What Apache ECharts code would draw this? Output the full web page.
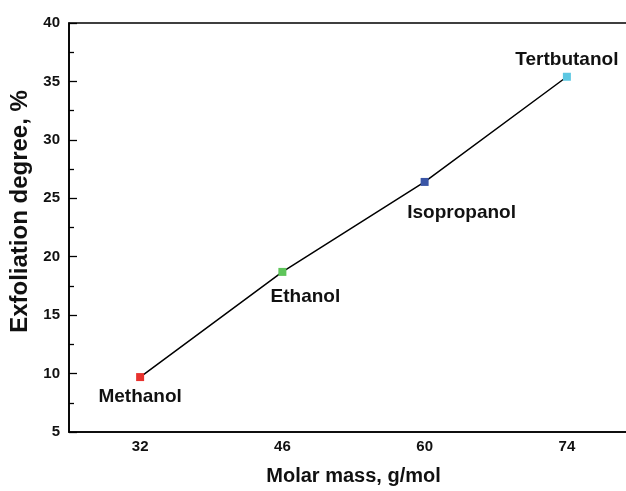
<!DOCTYPE html>
<html><head><meta charset="utf-8">
<script src="https://cdn.jsdelivr.net/npm/echarts@6/dist/echarts.min.js"></script>
<style>html,body{margin:0;padding:0;background:#fff;overflow:hidden;width:626px;height:491px}#c{width:640px;height:491px}</style>
</head><body><div id="c"></div>
<script>
const categories = ['32', '46', '60', '74'];
const solvents = ['Methanol', 'Ethanol', 'Isopropanol', 'Tertbutanol'];
const exfoliation = [9.7, 18.7, 26.4, 35.4];
const colors = ['#e8322e', '#5ec55a', '#3a55a6', '#5cc7e2'];
const labelPos = [
  {position: 'bottom', offset: [0, 1]},
  {position: 'bottom', offset: [23, 6]},
  {position: 'bottom', offset: [37, 12]},
  {position: 'top', offset: [0, 2]}
];
const chart = echarts.init(document.getElementById('c'));
const font = 'Liberation Sans, Arial, sans-serif';
chart.setOption({
  animation: false,
  grid: {left: 69, top: 23, right: 2, bottom: 56, show: true, borderColor: '#000', borderWidth: 1.6},
  xAxis: {
    type: 'category', data: categories, boundaryGap: true,
    name: 'Molar mass, g/mol', nameLocation: 'middle', nameGap: 34,
    nameTextStyle: {fontFamily: font, fontWeight: 'bold', fontSize: 20, color: '#111'},
    axisLine: {lineStyle: {color: '#000', width: 1.6}},
    axisTick: {show: false},
    axisLabel: {fontFamily: font, fontWeight: 'bold', fontSize: 15, color: '#111', margin: 7},
    splitLine: {show: false}
  },
  yAxis: {
    type: 'value', min: 5, max: 40, interval: 5,
    name: 'Exfoliation degree, %', nameLocation: 'middle', nameGap: 33,
    nameTextStyle: {fontFamily: font, fontWeight: 'bold', fontSize: 24, color: '#111', padding: [0, 0, 0, 32]},
    axisLine: {show: true, lineStyle: {color: '#000', width: 1.6}},
    axisTick: {show: true, inside: true, length: 8, lineStyle: {color: '#000', width: 1.3}},
    minorTick: {show: true, splitNumber: 2, length: 5, lineStyle: {color: '#000', width: 1.3}},
    axisLabel: {fontFamily: font, fontWeight: 'bold', fontSize: 15, color: '#111', margin: 9},
    splitLine: {show: false}
  },
  series: [{
    type: 'line',
    symbol: 'rect', symbolSize: 8,
    lineStyle: {color: '#000', width: 1.5},
    data: exfoliation.map((v, i) => ({
      value: v,
      name: solvents[i],
      itemStyle: {color: colors[i]},
      label: {
        show: true, formatter: solvents[i],
        position: labelPos[i].position, offset: labelPos[i].offset,
        fontFamily: font, fontWeight: 'bold', fontSize: 19, color: '#111'
      }
    }))
  }]
});
</script></body></html>
